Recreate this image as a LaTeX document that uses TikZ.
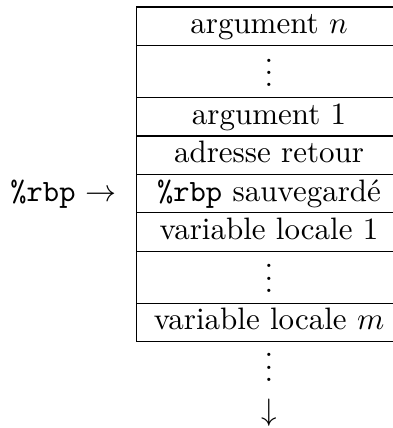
\documentclass[tikz,border=0pt]{standalone}
\usepackage{amsmath,amssymb}
\usepackage{fontspec}
\usetikzlibrary{positioning}

\tikzset{
    cell/.style={draw, line width=0.4pt, minimum width=85.6pt, minimum height=12.4pt,
        inner sep=0pt, outer sep=0pt, text height=8.4pt, text depth=3.6pt},
    dotcell/.style={cell, minimum height=16.8pt, text height=13.4pt, text depth=3.4pt},
    plain/.style={inner sep=0pt, outer sep=0pt},
}

\begin{document}
\begin{tikzpicture}
    \useasboundingbox (0,0) rectangle (126.5pt,-138.1pt);

    % Arguments
    \node[cell, anchor=north west] (argn) at (44pt,-2.26pt) {argument $n$};
    \node[dotcell, below=0pt of argn] (argdots) {$\vdots$};
    \node[cell, below=0pt of argdots] (argone) {argument 1};
    \node[cell, below=0pt of argone] (retaddr) {adresse retour};

    % Saved base pointer
    \node[cell, below=0pt of retaddr] (saved) {\texttt{\%rbp} sauvegardé};
    \node[plain, anchor=base east] (rbp) at ([xshift=-6.3pt]saved.base west) {\texttt{\%rbp} $\rightarrow$};

    % Local variables
    \node[cell, below=0pt of saved] (varone) {variable locale 1};
    \node[dotcell, below=0pt of varone] (vardots) {$\vdots$};
    \node[cell, below=0pt of vardots] (varm) {variable locale $m$};

    % Growth direction
    \node[plain, anchor=base] (more) at (86.8pt,-123.1pt) {$\vdots$};
    \node[plain, anchor=base] (grow) at (86.8pt,-135.8pt) {$\downarrow$};
\end{tikzpicture}
\end{document}
